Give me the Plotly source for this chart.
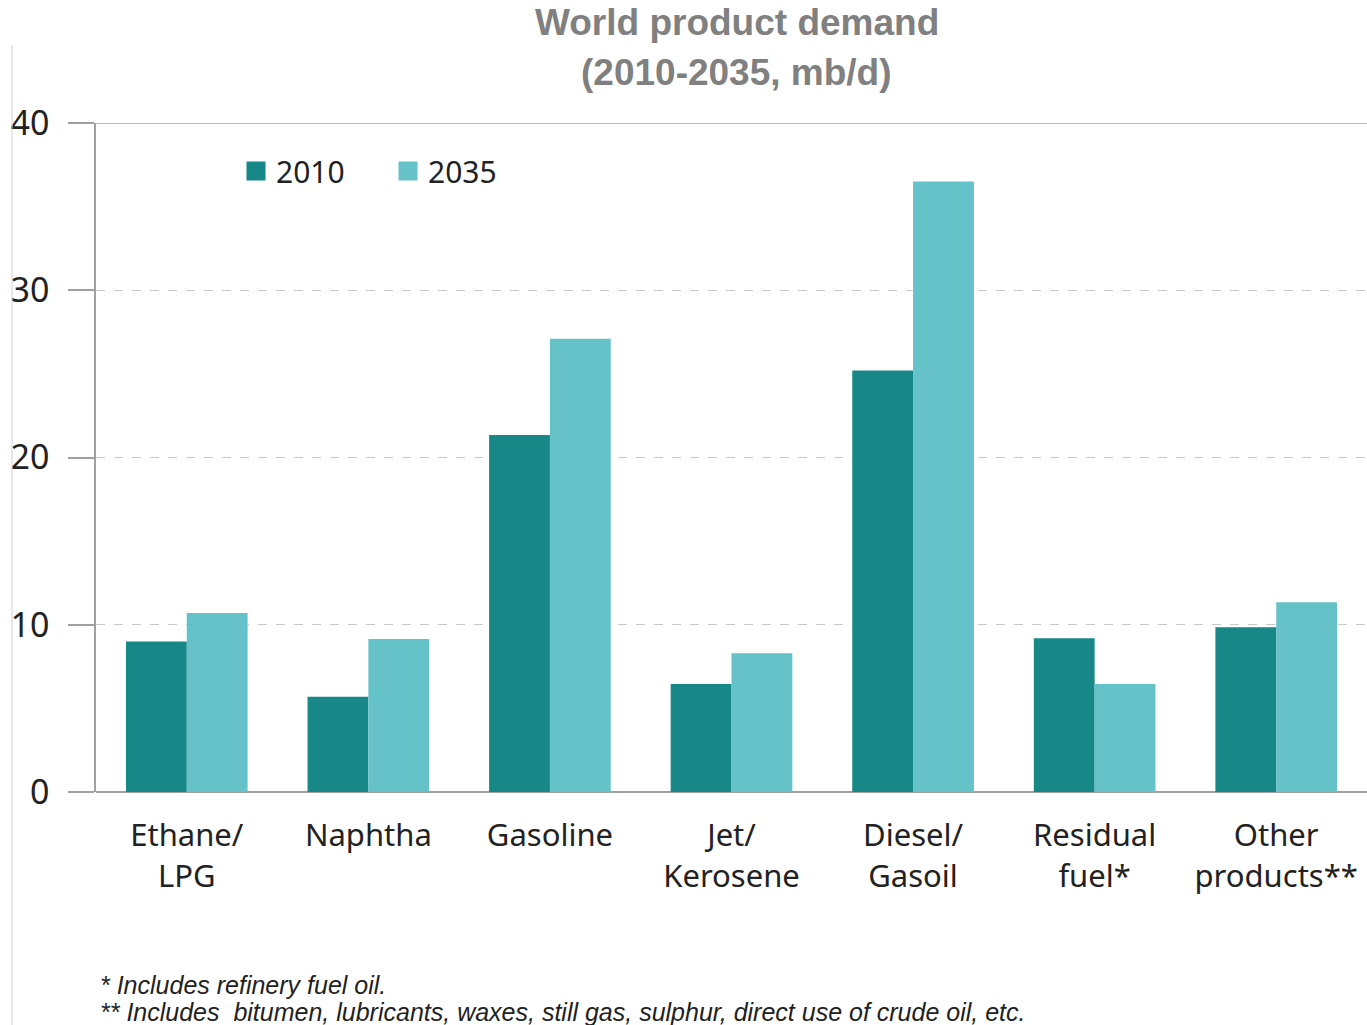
import plotly.graph_objects as go

categories = ["Ethane/<br>LPG", "Naphtha", "Gasoline", "Jet/<br>Kerosene",
              "Diesel/<br>Gasoil", "Residual<br>fuel*", "Other<br>products**"]
demand_2010 = [9.0, 5.7, 21.35, 6.45, 25.2, 9.2, 9.85]
demand_2035 = [10.7, 9.15, 27.1, 8.3, 36.5, 6.45, 11.35]
series_names = ["2010", "2035"]
series_colors = ["#178787", "#66C2C9"]
y_ticks = [0, 10, 20, 30, 40]

W, H = 1367, 1025
ML, MR, MT, MB = 96, 0, 123, 233
PW, PH = W - ML - MR, H - MT - MB

def px_x(x):
    return (x - ML) / PW

def px_y(y):
    return (H - MB - y) / PH

fig = go.Figure()
for name, vals, col in zip(series_names, [demand_2010, demand_2035], series_colors):
    fig.add_trace(go.Bar(name=name, x=categories, y=vals, showlegend=False,
                         marker=dict(color=col, line=dict(width=0))))
# legend entries with larger square swatches
for name, col in zip(series_names, series_colors):
    fig.add_trace(go.Scatter(name=name, x=[None], y=[None], mode="markers",
                             marker=dict(symbol="square", size=16, color=col,
                                         line=dict(color=col, width=3)),
                             showlegend=True))

axis_gray = "#A0A0A0"
fig.update_layout(
    width=W, height=H,
    margin=dict(l=ML, r=MR, t=MT, b=MB),
    paper_bgcolor="white", plot_bgcolor="white",
    barmode="group", bargap=0.33, bargroupgap=0,
    font=dict(family="Noto Sans, Open Sans, sans-serif", color="#222222", size=31),
    showlegend=True,
    legend=dict(orientation="h", x=px_x(236), y=px_y(171), xanchor="left", yanchor="middle",
                font=dict(size=30, color="#222222"), entrywidth=107, entrywidthmode="pixels",
                bgcolor="rgba(0,0,0,0)", itemsizing="trace"),
    xaxis=dict(showline=False, showgrid=False, ticks="outside", ticklen=16,
               tickcolor="rgba(0,0,0,0)", tickfont=dict(size=31, color="#222222"),
               fixedrange=True),
    yaxis=dict(range=[0, 40], tickvals=y_ticks, showline=True, linecolor=axis_gray,
               linewidth=1.5, showgrid=True, gridcolor="#C8C8C8", griddash="dash",
               gridwidth=1.2, zeroline=True, zerolinecolor=axis_gray, zerolinewidth=1.5,
               ticks="outside", ticklen=26, tickcolor=axis_gray, tickwidth=1.5,
               ticklabelstandoff=12, tickfont=dict(size=34, color="#222222")),
)

# solid top line at 40
fig.add_shape(type="line", xref="paper", yref="y", x0=px_x(70), x1=1, y0=40, y1=40,
              line=dict(color=axis_gray, width=1.5))
# thin frame line at left
fig.add_shape(type="line", xref="paper", yref="paper", x0=px_x(12), x1=px_x(12),
              y0=px_y(45), y1=px_y(1025), line=dict(color="#D0D0D0", width=1))

title_font = dict(family="Liberation Sans, Arial, sans-serif", size=37, color="#808080")
fig.add_annotation(text="<b>World product demand</b>", xref="paper", yref="paper",
                   x=px_x(737), y=px_y(23), xanchor="center", yanchor="middle",
                   showarrow=False, font=title_font)
fig.add_annotation(text="<b>(2010-2035, mb/d)</b>", xref="paper", yref="paper",
                   x=px_x(737), y=px_y(72), xanchor="center", yanchor="middle",
                   showarrow=False, font=title_font)

foot_font = dict(family="Liberation Sans Narrow, Liberation Sans, sans-serif", size=25,
                 color="#222222")
fig.add_annotation(text="<i>* Includes refinery fuel oil.</i>", xref="paper", yref="paper",
                   x=px_x(98), y=px_y(985), xanchor="left", yanchor="middle",
                   showarrow=False, font=foot_font)
fig.add_annotation(text="<i>** Includes  bitumen, lubricants, waxes, still gas, sulphur, direct use of crude oil, etc.</i>",
                   xref="paper", yref="paper",
                   x=px_x(98), y=px_y(1012), xanchor="left", yanchor="middle",
                   showarrow=False, font=foot_font)

fig.write_html("out.html")
